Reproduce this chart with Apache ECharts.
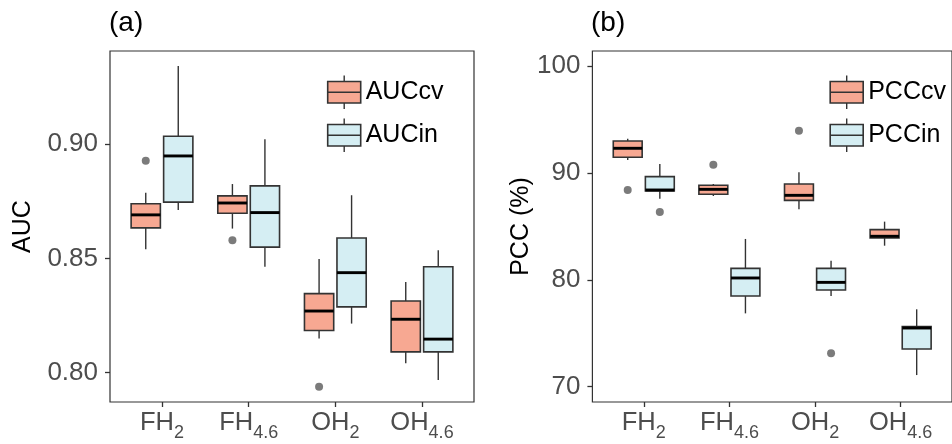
<!DOCTYPE html>
<html><head><meta charset="utf-8">
<script src="https://cdn.jsdelivr.net/npm/echarts@6/dist/echarts.min.js"></script>
<style>html,body{margin:0;padding:0;background:#fff}#c{width:952px;height:444px}</style>
</head><body><div id="c"></div>
<script>
// categories (main text + subscript)
const catMain = ['FH', 'FH', 'OH', 'OH'];
const catSub = ['2', '4.6', '2', '4.6'];
// box stats per category: [lowWhisker, Q1, median, Q3, highWhisker]
const aucCv = [
  [0.8540, 0.8634, 0.8691, 0.8740, 0.8788],
  [0.8631, 0.8698, 0.8743, 0.8774, 0.8826],
  [0.8150, 0.8185, 0.8270, 0.8346, 0.8498],
  [0.8041, 0.8091, 0.8234, 0.8314, 0.8397]
];
const aucIn = [
  [0.8712, 0.8747, 0.8949, 0.9035, 0.9343],
  [0.8464, 0.8550, 0.8701, 0.8818, 0.9022],
  [0.8215, 0.8288, 0.8438, 0.8590, 0.8777],
  [0.7968, 0.8091, 0.8147, 0.8464, 0.8536]
];
// outliers: [categoryIndex, value]
const aucCvOut = [[0, 0.8928], [1, 0.8580], [2, 0.7939]];
const aucInOut = [];
const pccCv = [
  [91.21, 91.46, 92.30, 92.98, 93.20],
  [87.84, 88.00, 88.46, 88.84, 88.96],
  [86.59, 87.43, 87.90, 88.96, 90.05],
  [83.19, 83.91, 84.07, 84.69, 85.44]
];
const pccIn = [
  [87.59, 88.31, 88.40, 89.65, 90.83],
  [76.86, 78.48, 80.17, 81.07, 83.82],
  [78.48, 79.05, 79.76, 81.07, 81.79],
  [71.09, 73.53, 75.49, 75.62, 77.24]
];
const pccCvOut = [[0, 88.40], [1, 90.77], [2, 93.95]];
const pccInOut = [[0, 86.34], [2, 73.12]];
const aTicks = [0.80, 0.85, 0.90];
const bTicks = [70, 80, 90, 100];
const legendA = ['AUCcv', 'AUCin'];
const legendB = ['PCCcv', 'PCCin'];

const CV_FILL = '#F7A892';
const IN_FILL = '#D5EEF3';
const DODGE = 0.1875;
const BOX_W = 0.3375;
const xPos = [1, 2, 3, 4];

function boxRender(offset, fill) {
  return function (params, api) {
    const x = api.value(0) + offset;
    const lo = api.coord([x, api.value(1)]);
    const q1 = api.coord([x, api.value(2)]);
    const md = api.coord([x, api.value(3)]);
    const q3 = api.coord([x, api.value(4)]);
    const hi = api.coord([x, api.value(5)]);
    const hw = api.size([BOX_W, 0])[0] / 2;
    const cx = q1[0];
    return {
      type: 'group', children: [
        { type: 'line', shape: { x1: cx, y1: hi[1], x2: cx, y2: q3[1] }, style: { stroke: '#333', lineWidth: 1.4 } },
        { type: 'line', shape: { x1: cx, y1: q1[1], x2: cx, y2: lo[1] }, style: { stroke: '#333', lineWidth: 1.4 } },
        { type: 'rect', shape: { x: cx - hw, y: q3[1], width: 2 * hw, height: q1[1] - q3[1] }, style: { fill: fill, stroke: '#333', lineWidth: 1.6 } },
        { type: 'line', shape: { x1: cx - hw, y1: md[1], x2: cx + hw, y2: md[1] }, style: { stroke: '#000', lineWidth: 2.9 } }
      ]
    };
  };
}
function boxSeries(name, stats, gi, offset, fill) {
  return {
    type: 'custom', name: name, xAxisIndex: gi, yAxisIndex: gi,
    data: stats.map((s, i) => [xPos[i]].concat(s)),
    encode: { x: 0, y: [1, 2, 3, 4, 5] },
    renderItem: boxRender(offset, fill), clip: false, z: 2
  };
}
function outSeries(pts, gi, offset) {
  return {
    type: 'scatter', xAxisIndex: gi, yAxisIndex: gi, symbolSize: 8,
    itemStyle: { color: '#5a5a5a' }, z: 3, silent: true,
    data: pts.map(p => [xPos[p[0]] + offset, p[1]])
  };
}
const labelRich = {
  n: { fontSize: 25.5, color: '#4d4d4d', fontFamily: 'Liberation Sans', lineHeight: 30 },
  s: { fontSize: 18, color: '#4d4d4d', fontFamily: 'Liberation Sans', verticalAlign: 'bottom', lineHeight: 18, padding: [0, 0, -4, 0] }
};
function xAxisCfg(gi) {
  return {
    type: 'value', gridIndex: gi, min: 0.4, max: 4.6,
    splitLine: { show: false }, axisLine: { show: false },
    axisTick: { show: true, customValues: xPos, length: 5, lineStyle: { color: '#333', width: 1.3 } },
    axisLabel: {
      customValues: xPos, margin: 6,
      formatter: v => '{n|' + catMain[v - 1] + '}{s|' + catSub[v - 1] + '}',
      rich: labelRich
    }
  };
}
function yAxisCfg(gi, min, max, ticks, fmt, name, gap) {
  return {
    type: 'value', gridIndex: gi, min: min, max: max,
    splitLine: { show: false }, axisLine: { show: false },
    axisTick: { show: true, customValues: ticks, length: 5, lineStyle: { color: '#333', width: 1.3 } },
    axisLabel: { customValues: ticks, formatter: fmt, margin: 12, fontSize: 26, color: '#4d4d4d', fontFamily: 'Liberation Sans' },
    name: name, nameLocation: 'middle', nameGap: gap,
    nameTextStyle: { fontSize: 25, color: '#000', fontFamily: 'Liberation Sans' }
  };
}
function legendKey(cx, cy, fill, label) {
  const w = 33, h = 21.5;
  return {
    type: 'group', children: [
      { type: 'line', shape: { x1: cx, y1: cy - h / 2 - 6, x2: cx, y2: cy + h / 2 + 6 }, style: { stroke: '#333', lineWidth: 1.4 } },
      { type: 'rect', shape: { x: cx - w / 2, y: cy - h / 2, width: w, height: h }, style: { fill: fill, stroke: '#333', lineWidth: 1.6 } },
      { type: 'line', shape: { x1: cx - w / 2, y1: cy, x2: cx + w / 2, y2: cy }, style: { stroke: '#333', lineWidth: 1.4 } },
      { type: 'text', x: cx + w / 2 + 5, y: cy, style: { text: label, fontSize: 25, fontFamily: 'Liberation Sans', fill: '#000', verticalAlign: 'middle', align: 'left' } }
    ]
  };
}

const chart = echarts.init(document.getElementById('c'), null, { renderer: 'canvas' });
chart.setOption({
  animation: false,
  backgroundColor: '#fff',
  title: [
    { text: '(a)', left: 109, top: 9, padding: 0, textStyle: { fontSize: 28, fontWeight: 'normal', color: '#000', fontFamily: 'Liberation Sans' } },
    { text: '(b)', left: 591, top: 9, padding: 0, textStyle: { fontSize: 28, fontWeight: 'normal', color: '#000', fontFamily: 'Liberation Sans' } }
  ],
  grid: [
    { left: 110, top: 51, width: 364, height: 351, show: true, borderColor: '#333', borderWidth: 1.2, backgroundColor: 'transparent' },
    { left: 592.4, top: 51, width: 370.5, height: 351, show: true, borderColor: '#333', borderWidth: 1.2, backgroundColor: 'transparent' }
  ],
  xAxis: [xAxisCfg(0), xAxisCfg(1)],
  yAxis: [
    yAxisCfg(0, 0.78717, 0.94085, aTicks, v => v.toFixed(2), 'AUC', 74),
    yAxisCfg(1, 68.57, 101.40, bTicks, v => String(v), 'PCC (%)', 45)
  ],
  series: [
    boxSeries(legendA[0], aucCv, 0, -DODGE, CV_FILL),
    boxSeries(legendA[1], aucIn, 0, DODGE, IN_FILL),
    outSeries(aucCvOut, 0, -DODGE),
    outSeries(aucInOut, 0, DODGE),
    boxSeries(legendB[0], pccCv, 1, -DODGE, CV_FILL),
    boxSeries(legendB[1], pccIn, 1, DODGE, IN_FILL),
    outSeries(pccCvOut, 1, -DODGE),
    outSeries(pccInOut, 1, DODGE)
  ],
  graphic: [
    legendKey(344.2, 92.3, CV_FILL, legendA[0]),
    legendKey(344.2, 135.3, IN_FILL, legendA[1]),
    legendKey(846.7, 92.3, CV_FILL, legendB[0]),
    legendKey(846.7, 135.3, IN_FILL, legendB[1])
  ]
});
</script>
</body></html>
